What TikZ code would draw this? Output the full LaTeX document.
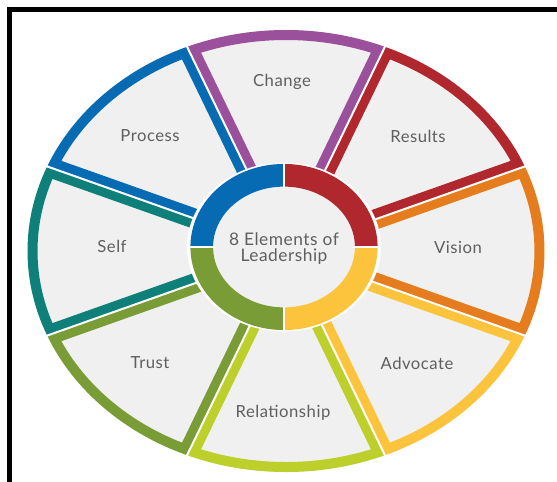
\documentclass[tikz,border=0pt]{standalone}
\usepackage{fontspec}
\setmainfont{Lato}[LetterSpace=3]
\usepackage{tikz}

\begin{document}
\begin{tikzpicture}[x=0.75pt,y=0.75pt,yscale=-1,xscale=1]
\useasboundingbox (0,0) rectangle (557,482);

%Straight Lines: frame
\draw [color={rgb, 255:red, 0; green, 0; blue, 0 }, line width=4.1pt, line join=miter] (9.75,495) -- (9.75,9.75) -- (570,9.75) ;

\begin{scope}[shift={(286,251)}, yscale=0.855]
%Shape: Sector Change
\begin{scope}
\clip (0,0) -- (247.5:258.5) arc [start angle=247.5, end angle=292.5, radius=258.5] -- cycle ;
\draw [color={rgb, 255:red, 155; green, 80; blue, 155 }, fill={rgb, 255:red, 240; green, 240; blue, 240 }, line width=15pt] (0,0) -- (247.5:258.5) arc [start angle=247.5, end angle=292.5, radius=258.5] -- cycle ;
\end{scope}
%Shape: Sector Results
\begin{scope}
\clip (0,0) -- (292.5:258.5) arc [start angle=292.5, end angle=337.5, radius=258.5] -- cycle ;
\draw [color={rgb, 255:red, 176; green, 39; blue, 45 }, fill={rgb, 255:red, 240; green, 240; blue, 240 }, line width=15pt] (0,0) -- (292.5:258.5) arc [start angle=292.5, end angle=337.5, radius=258.5] -- cycle ;
\end{scope}
%Shape: Sector Vision
\begin{scope}
\clip (0,0) -- (-22.5:258.5) arc [start angle=-22.5, end angle=22.5, radius=258.5] -- cycle ;
\draw [color={rgb, 255:red, 229; green, 124; blue, 30 }, fill={rgb, 255:red, 240; green, 240; blue, 240 }, line width=15pt] (0,0) -- (-22.5:258.5) arc [start angle=-22.5, end angle=22.5, radius=258.5] -- cycle ;
\end{scope}
%Shape: Sector Advocate
\begin{scope}
\clip (0,0) -- (22.5:258.5) arc [start angle=22.5, end angle=67.5, radius=258.5] -- cycle ;
\draw [color={rgb, 255:red, 252; green, 196; blue, 60 }, fill={rgb, 255:red, 240; green, 240; blue, 240 }, line width=15pt] (0,0) -- (22.5:258.5) arc [start angle=22.5, end angle=67.5, radius=258.5] -- cycle ;
\end{scope}
%Shape: Sector Relationship
\begin{scope}
\clip (0,0) -- (67.5:258.5) arc [start angle=67.5, end angle=112.5, radius=258.5] -- cycle ;
\draw [color={rgb, 255:red, 188; green, 207; blue, 42 }, fill={rgb, 255:red, 240; green, 240; blue, 240 }, line width=15pt] (0,0) -- (67.5:258.5) arc [start angle=67.5, end angle=112.5, radius=258.5] -- cycle ;
\end{scope}
%Shape: Sector Trust
\begin{scope}
\clip (0,0) -- (112.5:258.5) arc [start angle=112.5, end angle=157.5, radius=258.5] -- cycle ;
\draw [color={rgb, 255:red, 122; green, 156; blue, 55 }, fill={rgb, 255:red, 240; green, 240; blue, 240 }, line width=15pt] (0,0) -- (112.5:258.5) arc [start angle=112.5, end angle=157.5, radius=258.5] -- cycle ;
\end{scope}
%Shape: Sector Self
\begin{scope}
\clip (0,0) -- (157.5:258.5) arc [start angle=157.5, end angle=202.5, radius=258.5] -- cycle ;
\draw [color={rgb, 255:red, 15; green, 127; blue, 122 }, fill={rgb, 255:red, 240; green, 240; blue, 240 }, line width=15pt] (0,0) -- (157.5:258.5) arc [start angle=157.5, end angle=202.5, radius=258.5] -- cycle ;
\end{scope}
%Shape: Sector Process
\begin{scope}
\clip (0,0) -- (202.5:258.5) arc [start angle=202.5, end angle=247.5, radius=258.5] -- cycle ;
\draw [color={rgb, 255:red, 7; green, 107; blue, 180 }, fill={rgb, 255:red, 240; green, 240; blue, 240 }, line width=15pt] (0,0) -- (202.5:258.5) arc [start angle=202.5, end angle=247.5, radius=258.5] -- cycle ;
\end{scope}

%Straight Lines: white gaps between sectors
\draw [color=white, line width=1.5pt] (0,0) -- (22.5:265) ;
\draw [color=white, line width=1.5pt] (0,0) -- (67.5:265) ;
\draw [color=white, line width=1.5pt] (0,0) -- (112.5:265) ;
\draw [color=white, line width=1.5pt] (0,0) -- (157.5:265) ;
\draw [color=white, line width=1.5pt] (0,0) -- (202.5:265) ;
\draw [color=white, line width=1.5pt] (0,0) -- (247.5:265) ;
\draw [color=white, line width=1.5pt] (0,0) -- (292.5:265) ;
\draw [color=white, line width=1.5pt] (0,0) -- (337.5:265) ;
\end{scope}

\begin{scope}[shift={(284,247)}, yscale=0.872]
%Shape: Circle (white edge round the hub)
\draw [draw opacity=0, fill={rgb, 255:red, 255; green, 255; blue, 255 }] (0,0) circle [radius=97] ;
%Shape: Circle (hub)
\draw [draw opacity=0, fill={rgb, 255:red, 240; green, 240; blue, 240 }] (0,0) circle [radius=71] ;
%Shape: Arc (hub ring, four quarters)
\draw [color={rgb, 255:red, 7; green, 107; blue, 180 }, line width=17pt] (180:82.25) arc [start angle=180, end angle=270, radius=82.25] ;
\draw [color={rgb, 255:red, 176; green, 39; blue, 45 }, line width=17pt] (270:82.25) arc [start angle=270, end angle=360, radius=82.25] ;
\draw [color={rgb, 255:red, 252; green, 196; blue, 60 }, line width=17pt] (0:82.25) arc [start angle=0, end angle=90, radius=82.25] ;
\draw [color={rgb, 255:red, 122; green, 156; blue, 55 }, line width=17pt] (90:82.25) arc [start angle=90, end angle=180, radius=82.25] ;
%Straight Lines: ring joints
\draw [color=white, line width=0.9pt] (0:69) -- (0:96) ;
\draw [color=white, line width=0.9pt] (90:69) -- (90:96) ;
\draw [color=white, line width=0.9pt] (180:69) -- (180:96) ;
\draw [color=white, line width=0.9pt] (270:69) -- (270:96) ;
\end{scope}

% Text Node
\draw (284,249) node (hub) [inner sep=0.75pt, color={rgb, 255:red, 95; green, 95; blue, 95 }, font=\fontsize{13}{12}\selectfont] [align=center] {8 Elements of\\Leadership};
% Text Node
\draw (282,82) node (change) [inner sep=0.75pt, color={rgb, 255:red, 95; green, 95; blue, 95 }, font=\fontsize{12.5}{14}\selectfont] [align=center] {Change};
% Text Node
\draw (418,136) node (results) [inner sep=0.75pt, color={rgb, 255:red, 95; green, 95; blue, 95 }, font=\fontsize{12.5}{14}\selectfont] [align=center] {Results};
% Text Node
\draw (458,247) node (vision) [inner sep=0.75pt, color={rgb, 255:red, 95; green, 95; blue, 95 }, font=\fontsize{12.5}{14}\selectfont] [align=center] {Vision};
% Text Node
\draw (417,363) node (advocate) [inner sep=0.75pt, color={rgb, 255:red, 95; green, 95; blue, 95 }, font=\fontsize{12.5}{14}\selectfont] [align=center] {Advocate};
% Text Node
\draw (283,413) node (relationship) [inner sep=0.75pt, color={rgb, 255:red, 95; green, 95; blue, 95 }, font=\fontsize{12.5}{14}\selectfont] [align=center] {Relationship};
% Text Node
\draw (150,363) node (trust) [inner sep=0.75pt, color={rgb, 255:red, 95; green, 95; blue, 95 }, font=\fontsize{12.5}{14}\selectfont] [align=center] {Trust};
% Text Node
\draw (112,246) node (self) [inner sep=0.75pt, color={rgb, 255:red, 95; green, 95; blue, 95 }, font=\fontsize{12.5}{14}\selectfont] [align=center] {Self};
% Text Node
\draw (150,136) node (process) [inner sep=0.75pt, color={rgb, 255:red, 95; green, 95; blue, 95 }, font=\fontsize{12.5}{14}\selectfont] [align=center] {Process};

\end{tikzpicture}
\end{document}
